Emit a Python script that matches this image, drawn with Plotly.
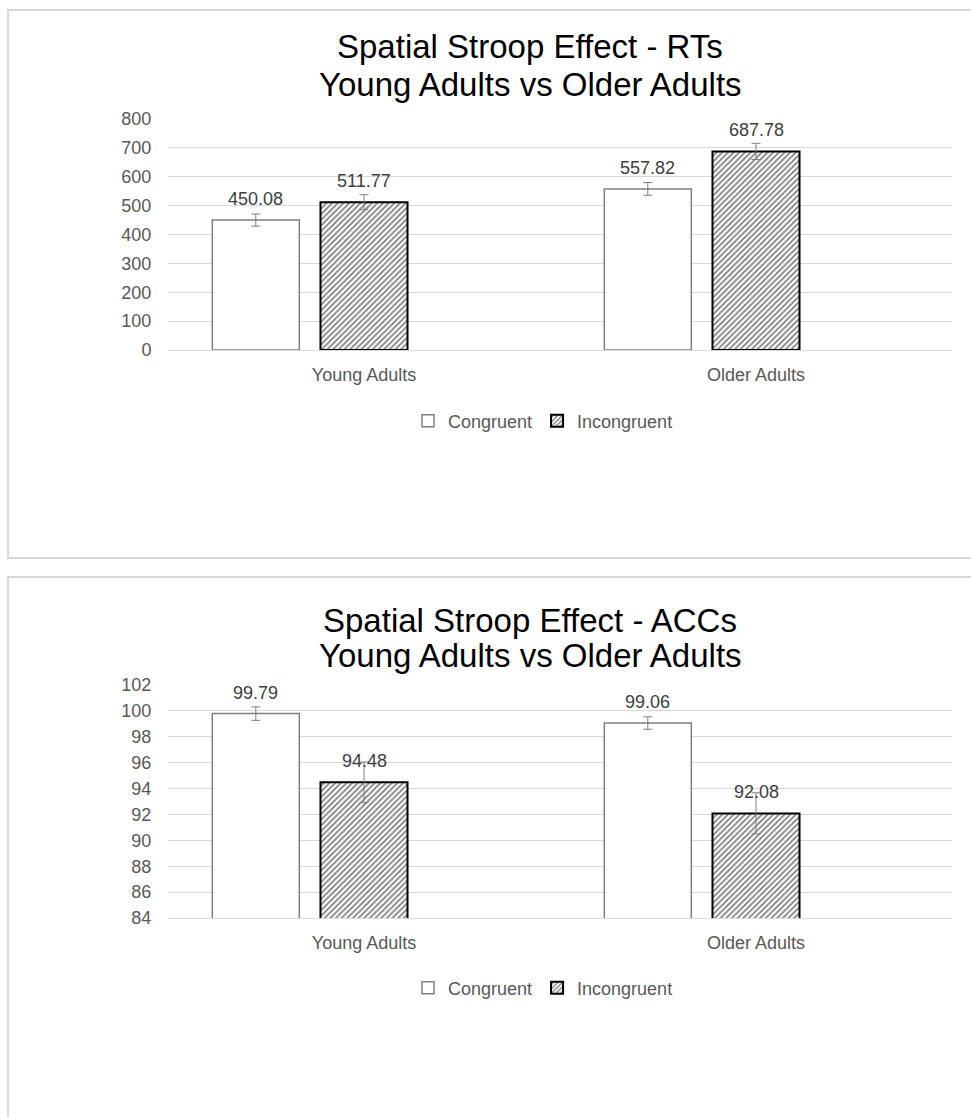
import plotly.graph_objects as go

# ---------------- data ----------------
categories = ["Young Adults", "Older Adults"]
series_names = ["Congruent", "Incongruent"]

rt_congruent = [450.08, 557.82]
rt_incongruent = [511.77, 687.78]
rt_congruent_err = [21, 22]
rt_incongruent_err = [26, 28]

acc_congruent = [99.79, 99.06]
acc_incongruent = [94.48, 92.08]
acc_congruent_err = [0.52, 0.48]
acc_incongruent_err = [1.57, 1.59]

rt_ticks = [0, 100, 200, 300, 400, 500, 600, 700, 800]
acc_ticks = [84, 86, 88, 90, 92, 94, 96, 98, 100, 102]

title_rt = ["Spatial Stroop Effect - RTs", "Young Adults vs Older Adults"]
title_acc = ["Spatial Stroop Effect - ACCs", "Young Adults vs Older Adults"]

# ---------------- styling ----------------
W, H = 971, 1117
FONT = "Liberation Sans, Arial, sans-serif"
GRID = "#d9d9d9"
TXT = "#595959"
BAR_W = 0.222
OFFSETS = [-0.387, -0.111]


def px(x):
    return x / W


def py(y):
    return 1 - y / H


fig = go.Figure()

panels = [
    dict(x="x", y="y", legend="legend", vals=[rt_congruent, rt_incongruent],
         errs=[rt_congruent_err, rt_incongruent_err]),
    dict(x="x2", y="y2", legend="legend2", vals=[acc_congruent, acc_incongruent],
         errs=[acc_congruent_err, acc_incongruent_err]),
]

annotations = []
for p in panels:
    for k, name in enumerate(series_names):
        if k == 0:
            marker = dict(color="white", line=dict(color="#7f7f7f", width=1.5))
        else:
            marker = dict(color="white",
                          pattern=dict(shape="/", fgcolor="black", bgcolor="white",
                                       size=4, solidity=0.45),
                          line=dict(color="black", width=2))
        fig.add_trace(go.Bar(
            x=categories, y=p["vals"][k], name=name,
            width=BAR_W, offset=OFFSETS[k], marker=marker,
            error_y=dict(type="data", array=p["errs"][k], color="#7f7f7f",
                         thickness=1, width=4.5),
            xaxis=p["x"], yaxis=p["y"], legend=p["legend"],
            hoverinfo="skip",
        ))
        for i, v in enumerate(p["vals"][k]):
            annotations.append(dict(
                x=i + OFFSETS[k] + BAR_W / 2, y=v, xref=p["x"], yref=p["y"],
                text=f"{v:.2f}", showarrow=False, yanchor="bottom", yshift=9,
                font=dict(family=FONT, size=18, color="#404040"),
            ))

# titles
for lines, ys in [(title_rt, [46, 84]), (title_acc, [620, 655])]:
    for t, yy in zip(lines, ys):
        annotations.append(dict(
            x=px(530), y=py(yy), xref="paper", yref="paper", text=t,
            showarrow=False, xanchor="center", yanchor="middle",
            font=dict(family=FONT, size=33, color="#000000"),
        ))

xaxis_common = dict(
    type="category", range=[-0.5, 1.5], showgrid=False,
    showline=True, linecolor=GRID, linewidth=1,
    ticks="outside", tickcolor="rgba(0,0,0,0)", ticklen=8,
    tickfont=dict(family=FONT, size=18, color=TXT), fixedrange=True,
)
yaxis_common = dict(
    showgrid=True, gridcolor=GRID, gridwidth=1, zeroline=False, showline=False,
    ticks="outside", tickcolor="rgba(0,0,0,0)", ticklen=12,
    tickfont=dict(family=FONT, size=18, color=TXT), fixedrange=True,
)

legend_common = dict(
    orientation="h", xanchor="center", yanchor="middle", x=px(543),
    font=dict(family=FONT, size=18, color=TXT), bgcolor="rgba(0,0,0,0)",
)

# small range extension so the top gridline is drawn
rt_top = 802
acc_top = 102.05
rt_px = (350 - 119) / 800
acc_px = (918 - 685) / 18

fig.update_layout(
    width=W, height=H, margin=dict(l=0, r=0, t=0, b=0, pad=0, autoexpand=False),
    paper_bgcolor="white", plot_bgcolor="white",
    barmode="group", showlegend=True,
    font=dict(family=FONT, color=TXT),
    xaxis=dict(xaxis_common, domain=[px(168), px(952)], anchor="y"),
    yaxis=dict(yaxis_common, domain=[py(350), py(119 - (rt_top - 800) * rt_px)],
               range=[0, rt_top], tickvals=rt_ticks, anchor="x"),
    xaxis2=dict(xaxis_common, domain=[px(168), px(952)], anchor="y2"),
    yaxis2=dict(yaxis_common, domain=[py(918), py(685 - (acc_top - 102) * acc_px)],
                range=[84, acc_top], tickvals=acc_ticks, anchor="x2"),
    legend=dict(legend_common, y=py(421)),
    legend2=dict(legend_common, y=py(988)),
    annotations=annotations,
    shapes=[
        dict(type="rect", xref="paper", yref="paper", x0=px(8), x1=1.2,
             y0=py(558), y1=py(10), line=dict(color=GRID, width=2), layer="below"),
        dict(type="rect", xref="paper", yref="paper", x0=px(8), x1=1.2,
             y0=-0.2, y1=py(577), line=dict(color=GRID, width=2), layer="below"),
    ],
)

fig.write_html(
    "out.html",
    config={"displayModeBar": False},
    post_script=(
        "document.documentElement.style.margin='0';"
        "document.body.style.margin='0';"
        "document.body.style.overflow='hidden';"
        "var d=document.getElementById('{plot_id}');"
        "d.style.position='fixed';d.style.top='0px';d.style.left='0px';"
    ),
)
